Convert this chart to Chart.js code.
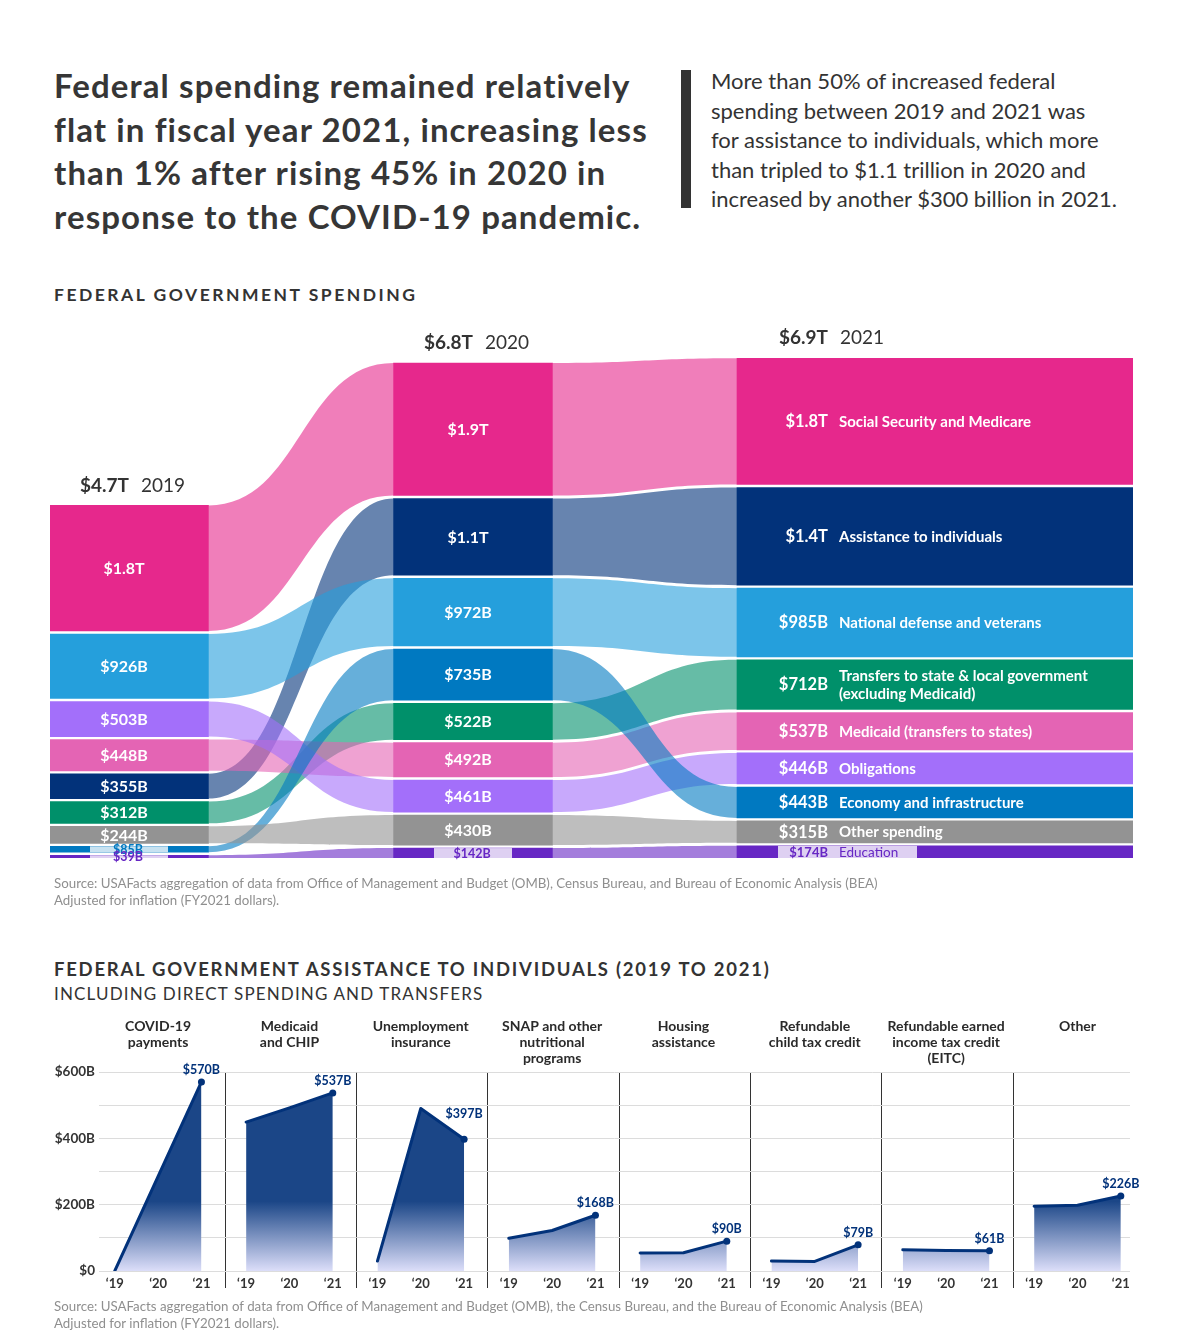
<!DOCTYPE html>
<html>
<head>
<meta charset="utf-8">
<title>Federal spending 2019-2021</title>
<script src="https://cdn.jsdelivr.net/npm/chart.js@4.4.1/dist/chart.umd.min.js"></script>
<style>
  body { margin: 0; background: #fff; }
  #page { position: relative; width: 1197px; height: 1339px; overflow: hidden; font-family: Lato, "Noto Sans", sans-serif; color: #333; }
  .t { position: absolute; white-space: nowrap; }
  #title { left: 54px; top: 64px; font-size: 33px; line-height: 43.5px; font-weight: 700; letter-spacing: 1.1px; color: #363636; }
  #bar { position: absolute; left: 681px; top: 70px; width: 10px; height: 138px; background: #333; }
  #lede { left: 711px; top: 66px; font-size: 22px; line-height: 29.5px; }
  .head { font-weight: 700; font-size: 17.5px; letter-spacing: 2.5px; }
  .src { font-size: 13.3px; line-height: 17px; color: #8f8f8f; }
  canvas { position: absolute; left: 0; }
</style>
</head>
<body>
<div id="page">
  <div class="t" id="title">Federal spending remained relatively<br>flat in fiscal year 2021, increasing less<br>than 1% after rising 45% in 2020 in<br>response to the COVID-19 pandemic.</div>
  <div id="bar"></div>
  <div class="t" id="lede">More than 50% of increased federal<br>spending between 2019 and 2021 was<br>for assistance to individuals, which more<br>than tripled to $1.1 trillion in 2020 and<br>increased by another $300 billion in 2021.</div>
  <div class="t head" style="left:54px;top:284px;">FEDERAL GOVERNMENT SPENDING</div>
  <canvas id="sankey" width="1197" height="560" style="top:320px"></canvas>
  <div class="t src" style="left:54px;top:875px;">Source: USAFacts aggregation of data from Office of Management and Budget (OMB), Census Bureau, and Bureau of Economic Analysis (BEA)<br>Adjusted for inflation (FY2021 dollars).</div>
  <div class="t head" style="left:54px;top:958px;font-size:18.5px;letter-spacing:1.75px;">FEDERAL GOVERNMENT ASSISTANCE TO INDIVIDUALS (2019 TO 2021)</div>
  <div class="t" style="left:54px;top:983px;font-size:17px;letter-spacing:1.15px;">INCLUDING DIRECT SPENDING AND TRANSFERS</div>
  <canvas id="assist" width="1197" height="290" style="top:1010px"></canvas>
  <div class="t src" style="left:54px;top:1298px;">Source: USAFacts aggregation of data from Office of Management and Budget (OMB), the Census Bureau, and the Bureau of Economic Analysis (BEA)<br>Adjusted for inflation (FY2021 dollars).</div>
</div>

<script>
const FONT = 'Lato, "Noto Sans", sans-serif';

// federal spending by category, $ billions (FY2021 dollars)
const categories = [
  'Social Security and Medicare',
  'Assistance to individuals',
  'National defense and veterans',
  'Transfers to state & local government\n(excluding Medicaid)',
  'Medicaid (transfers to states)',
  'Obligations',
  'Economy and infrastructure',
  'Other spending',
  'Education'
];
const spend2019 = [1800, 355, 926, 312, 448, 503, 85, 244, 39];
const spend2020 = [1900, 1100, 972, 522, 492, 461, 735, 430, 142];
const spend2021 = [1810, 1400, 985, 712, 537, 446, 443, 315, 174];
const years = ['2019', '2020', '2021'];
const yearTotals = ['$4.7T', '$6.8T', '$6.9T'];
const catColors = ['#e6288c', '#02327a', '#259fdc', '#00906a', '#e464b4', '#a36ffa', '#0079c1', '#939393', '#6727c4'];

// assistance to individuals, $ billions
const programs = [
  ['COVID-19', 'payments'],
  ['Medicaid', 'and CHIP'],
  ['Unemployment', 'insurance'],
  ['SNAP and other', 'nutritional', 'programs'],
  ['Housing', 'assistance'],
  ['Refundable', 'child tax credit'],
  ['Refundable earned', 'income tax credit', '(EITC)'],
  ['Other']
];
const covidPayments = [0, 285, 570];
const medicaidChip = [449, 492, 537];
const unemployment = [30, 490, 397];
const snap = [99, 122, 168];
const housing = [54, 55, 90];
const childCredit = [30, 29, 79];
const eitc = [64, 62, 61];
const otherAssist = [195, 198, 226];
const panelValues = [covidPayments, medicaidChip, unemployment, snap, housing, childCredit, eitc, otherAssist];
const yearTicks = ['\u201819', '\u201820', '\u201821'];

// layout
const colX = [79, 423, 885];      // column centres on the hidden x axis
const colWidth = [159, 396];      // 2019/2020 columns, 2021 column
const NODE_GAP = 43;              // white space between nodes, in $B
const LABEL_SPLIT = 91;           // 2021 label split, from the bar's left edge
const PANEL_OFFSETS = [0.16, 0.49, 0.82];

const spendCols = [spend2019, spend2020, spend2021];
const fmt = v => v >= 1000 ? '$' + (v / 1000).toFixed(1) + 'T' : '$' + v + 'B';

function rgba(hex, a) {
  const n = parseInt(hex.slice(1), 16);
  return `rgba(${n >> 16},${(n >> 8) & 255},${n & 255},${a})`;
}

// largest category on top, smallest at the bottom
function stackColumn(vals) {
  const order = vals.map((v, i) => i).sort((a, b) => vals[a] - vals[b]);
  const ranges = [];
  let cum = 0;
  order.forEach(i => {
    ranges[i] = [cum, cum + vals[i]];
    cum += vals[i] + NODE_GAP;
  });
  return ranges;
}
const ranges = spendCols.map(stackColumn);

const sankeySets = [];
categories.forEach((name, i) => {
  sankeySets.push({
    label: name,
    data: [0, 1].map(k => ({ x: colX[k], y: ranges[k][i] })),
    backgroundColor: catColors[i],
    barThickness: colWidth[0],
    grouped: false
  });
  sankeySets.push({
    label: name,
    data: [{ x: colX[2], y: ranges[2][i] }],
    backgroundColor: catColors[i],
    barThickness: colWidth[1],
    grouped: false
  });
});

function nodesFor(chart, i) {
  const early = chart.getDatasetMeta(2 * i).data;
  const late = chart.getDatasetMeta(2 * i + 1).data;
  return [early[0], early[1], late[0]];
}
function span(el) {
  return [Math.min(el.y, el.base), Math.max(el.y, el.base)];
}

const flowPlugin = {
  id: 'flows',
  beforeDatasetsDraw(chart) {
    const c = chart.ctx;
    c.save();
    categories.forEach((name, i) => {
      const nodes = nodesFor(chart, i);
      for (let k = 0; k < 2; k++) {
        const a = nodes[k], b = nodes[k + 1];
        const x0 = a.x + a.width / 2, x1 = b.x - b.width / 2, xm = (x0 + x1) / 2;
        const [t0, b0] = span(a);
        const [t1, b1] = span(b);
        c.beginPath();
        c.moveTo(x0, t0);
        c.bezierCurveTo(xm, t0, xm, t1, x1, t1);
        c.lineTo(x1, b1);
        c.bezierCurveTo(xm, b1, xm, b0, x0, b0);
        c.closePath();
        c.fillStyle = rgba(catColors[i], 0.6);
        c.fill();
      }
    });
    c.restore();
  }
};

const nodeLabelPlugin = {
  id: 'nodeLabels',
  afterDatasetsDraw(chart) {
    const c = chart.ctx;
    c.save();
    c.textBaseline = 'middle';
    const tops = [Infinity, Infinity, Infinity];
    const splits = [];
    categories.forEach((name, i) => {
      nodesFor(chart, i).forEach((el, k) => {
        const [top, bot] = span(el);
        tops[k] = Math.min(tops[k], top);
        const h = bot - top, cy = (top + bot) / 2;
        const left = el.x - el.width / 2;
        const val = fmt(spendCols[k][i]);
        const small = h < 14;
        if (k < 2) {
          splits[k] = el.x;
          if (small) {
            c.fillStyle = '#fff';
            c.fillRect(el.x - 39, top, 78, h);
            c.fillStyle = rgba(catColors[i], 0.22);
            c.fillRect(el.x - 39, top, 78, h);
            c.fillStyle = catColors[i];
            c.font = 'bold 12.5px ' + FONT;
          } else {
            c.fillStyle = '#fff';
            c.font = 'bold 16px ' + FONT;
          }
          c.textAlign = 'center';
          c.fillText(val, el.x - (small ? 1 : 5), cy + 0.5);
        } else {
          const sx = left + LABEL_SPLIT;
          splits[k] = sx;
          if (small) {
            c.fillStyle = '#fff';
            c.fillRect(sx - 50, top, 139, h);
            c.fillStyle = rgba(catColors[i], 0.22);
            c.fillRect(sx - 50, top, 139, h);
            c.fillStyle = catColors[i];
            c.textAlign = 'right';
            c.font = 'bold 13px ' + FONT;
            c.fillText(val, sx, cy + 0.5);
            c.textAlign = 'left';
            c.font = '13.5px ' + FONT;
            c.fillText(name, sx + 11, cy + 0.5);
          } else {
            c.fillStyle = '#fff';
            c.textAlign = 'right';
            c.font = 'bold 16.5px ' + FONT;
            c.fillText(val, sx, cy + 0.5);
            c.textAlign = 'left';
            c.font = 'bold 15px ' + FONT;
            const lines = name.split('\n');
            lines.forEach((ln, j) => c.fillText(ln, sx + 11, cy + 0.5 + (j - (lines.length - 1) / 2) * 18));
          }
        }
      });
    });
    // column headers
    c.fillStyle = '#333';
    years.forEach((yr, k) => {
      const y = tops[k] - 20;
      c.textAlign = 'right';
      c.font = 'bold 19px ' + FONT;
      c.fillText(yearTotals[k], splits[k], y);
      c.textAlign = 'left';
      c.font = '19px ' + FONT;
      c.fillText(yr, splits[k] + 12, y);
    });
    c.restore();
  }
};

new Chart(document.getElementById('sankey'), {
  type: 'bar',
  data: { datasets: sankeySets },
  options: {
    responsive: false,
    animation: false,
    layout: { padding: { left: 50, right: 64, top: 22, bottom: 22 } },
    plugins: { legend: { display: false }, tooltip: { enabled: false } },
    scales: {
      x: { type: 'linear', min: 0, max: 1083, display: false, offset: false },
      y: { min: 0, max: 7400, display: false }
    }
  },
  plugins: [flowPlugin, nodeLabelPlugin]
});

// ---------- assistance small multiples ----------
const tickInfo = [];
programs.forEach((t, p) => {
  if (p > 0) tickInfo.push({ value: p, label: '', sep: true });
  yearTicks.forEach((lab, j) => tickInfo.push({ value: p + PANEL_OFFSETS[j], label: lab, sep: false }));
});
const isSep = ctx => !!(tickInfo[ctx.index] && tickInfo[ctx.index].sep);

function areaFill(ctx) {
  const area = ctx.chart.chartArea;
  if (!area) return 'rgba(27,70,135,0.8)';
  const g = ctx.chart.ctx.createLinearGradient(0, area.top, 0, area.bottom);
  g.addColorStop(0, '#1b4687');
  g.addColorStop(0.65, '#1b4687');
  g.addColorStop(1, '#dcdef9');
  return g;
}

const assistSets = panelValues.map((vals, p) => ({
  label: programs[p].join(' '),
  data: vals.map((v, j) => ({ x: p + PANEL_OFFSETS[j], y: v })),
  fill: 'origin',
  backgroundColor: areaFill,
  borderColor: '#02327a',
  borderWidth: 3,
  borderCapStyle: 'round',
  borderJoinStyle: 'round',
  tension: 0,
  pointRadius: ctx => ctx.dataIndex === 2 ? 3.5 : 0,
  pointBackgroundColor: '#02327a',
  pointBorderWidth: 0
}));

const panelPlugin = {
  id: 'panels',
  afterDatasetsDraw(chart) {
    const c = chart.ctx, xs = chart.scales.x;
    c.save();
    c.textAlign = 'center';
    c.textBaseline = 'middle';
    programs.forEach((lines, p) => {
      const cx = xs.getPixelForValue(p + PANEL_OFFSETS[1]);
      c.font = 'bold 14px ' + FONT;
      c.fillStyle = '#2a2a2a';
      lines.forEach((ln, j) => c.fillText(ln, cx, 16 + j * 16));
      // end label, lifted clear of the line coming in from the left
      const pts = chart.getDatasetMeta(p).data;
      const end = pts[2], prev = pts[1];
      const text = fmt(panelValues[p][2]);
      c.font = 'bold 12.5px ' + FONT;
      const lx = end.x - c.measureText(text).width / 2;
      const lineY = prev.y + (end.y - prev.y) * (lx - prev.x) / (end.x - prev.x);
      c.fillStyle = '#02327a';
      c.fillText(text, end.x, Math.min(end.y, lineY) - 12);
    });
    c.restore();
  }
};

new Chart(document.getElementById('assist'), {
  type: 'line',
  data: { datasets: assistSets },
  options: {
    responsive: false,
    animation: false,
    layout: { padding: { left: 0, right: 67, top: 62, bottom: 4 } },
    plugins: { legend: { display: false }, tooltip: { enabled: false } },
    scales: {
      x: {
        type: 'linear', min: 0.04, max: 7.89,
        afterBuildTicks: s => { s.ticks = tickInfo.map(t => ({ value: t.value })); },
        afterFit: s => { s.height = 25; },
        ticks: {
          autoSkip: false, maxRotation: 0, padding: -12, color: '#333',
          font: { family: FONT, size: 13, weight: 'bold' },
          callback: (v, i) => tickInfo[i] ? tickInfo[i].label : ''
        },
        grid: {
          color: ctx => isSep(ctx) ? '#333' : 'rgba(0,0,0,0)',
          tickColor: ctx => isSep(ctx) ? '#333' : 'rgba(0,0,0,0)',
          tickLength: 17,
          lineWidth: 1
        },
        border: { display: false }
      },
      y: {
        min: 0, max: 600,
        afterFit: s => { s.width = 99; },
        ticks: {
          stepSize: 100, padding: 4, color: '#333',
          font: { family: FONT, size: 13.5, weight: 'bold' },
          callback: v => v % 200 ? '' : (v ? '$' + v + 'B' : '$0')
        },
        grid: { color: '#dcdcdc', drawTicks: false },
        border: { display: false }
      }
    }
  },
  plugins: [panelPlugin]
});
</script>
</body>
</html>
